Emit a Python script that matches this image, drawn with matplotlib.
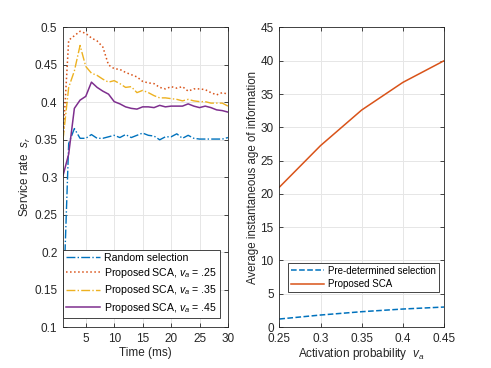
import matplotlib
matplotlib.use("Agg")
import matplotlib.pyplot as plt
import numpy as np

# left panel: service rate vs time
time_ms = np.arange(1, 31)
random_sel = [0.12, 0.345, 0.365, 0.352, 0.352, 0.357, 0.352, 0.352, 0.354, 0.356,
              0.353, 0.357, 0.353, 0.356, 0.359, 0.356, 0.355, 0.350, 0.354, 0.354,
              0.358, 0.352, 0.356, 0.352, 0.351, 0.351, 0.351, 0.351, 0.351, 0.353]
sca_25 = [0.350, 0.483, 0.489, 0.495, 0.492, 0.486, 0.482, 0.474, 0.450, 0.445,
          0.444, 0.440, 0.437, 0.434, 0.428, 0.426, 0.425, 0.420, 0.418, 0.421,
          0.419, 0.421, 0.415, 0.418, 0.418, 0.417, 0.413, 0.410, 0.413, 0.411]
sca_35 = [0.350, 0.420, 0.442, 0.476, 0.448, 0.439, 0.436, 0.431, 0.427, 0.429,
          0.425, 0.420, 0.421, 0.413, 0.416, 0.413, 0.409, 0.406, 0.406, 0.405,
          0.404, 0.402, 0.404, 0.402, 0.401, 0.401, 0.399, 0.399, 0.399, 0.395]
sca_45 = [0.302, 0.331, 0.392, 0.403, 0.408, 0.427, 0.420, 0.415, 0.411, 0.401,
          0.398, 0.394, 0.392, 0.391, 0.394, 0.394, 0.393, 0.396, 0.394, 0.395,
          0.395, 0.395, 0.398, 0.395, 0.393, 0.395, 0.393, 0.390, 0.389, 0.387]

# right panel: age of information vs activation probability
act_prob = [0.25, 0.30, 0.35, 0.40, 0.45]
aoi_predet = [1.2, 1.8, 2.3, 2.7, 3.0]
aoi_sca = [21.0, 27.25, 32.6, 36.75, 40.0]

plt.rcParams['font.family'] = ['Liberation Sans', 'DejaVu Sans']
plt.rcParams['mathtext.fontset'] = 'custom'
plt.rcParams['mathtext.rm'] = 'Liberation Sans'
plt.rcParams['mathtext.it'] = 'Liberation Sans:italic'
plt.rcParams['font.size'] = 8.5

axcol = '#262626'
fig = plt.figure(figsize=(4.91, 3.68), dpi=100)
ax1 = fig.add_axes([0.1283, 0.1114, 0.336, 0.8139])
ax2 = fig.add_axes([0.5689, 0.1114, 0.3354, 0.8139])


def matlab_style(ax):
    for s in ax.spines.values():
        s.set_color(axcol)
        s.set_linewidth(0.6)
    ax.tick_params(direction='in', length=3, width=0.6, colors=axcol,
                   top=True, right=True, labelsize=8.5)
    ax.tick_params(axis='x', pad=4)
    ax.tick_params(axis='y', pad=4)
    ax.grid(True, color='#e6e6e6', linewidth=0.7)
    ax.set_axisbelow(True)


ax1.plot(time_ms, random_sel, '-.', color='#0072BD', lw=1.0, label='Random selection')
ax1.plot(time_ms, sca_25, ':', color='#D95319', lw=1.1, label=r'Proposed SCA, $v_a$ = .25')
ax1.plot(time_ms, sca_35, '-.', color='#EDB120', lw=1.0, label=r'Proposed SCA, $v_a$ = .35')
ax1.plot(time_ms, sca_45, '-', color='#7E2F8E', lw=1.1, label=r'Proposed SCA, $v_a$ = .45')
ax1.set_xlim(1, 30)
ax1.set_ylim(0.1, 0.5)
ax1.set_xticks([5, 10, 15, 20, 25, 30])
ax1.set_yticks(np.arange(0.1, 0.501, 0.05))
ax1.set_yticklabels(['0.1', '0.15', '0.2', '0.25', '0.3', '0.35', '0.4', '0.45', '0.5'])
ax1.set_xlabel('Time (ms)', color=axcol, labelpad=2, fontsize=8.5)
ax1.set_ylabel(r'Service rate  $s_r$', color=axcol, labelpad=1, fontsize=8.5)
matlab_style(ax1)
leg1 = ax1.legend(loc='lower right', bbox_to_anchor=(0.9515, 0.03), borderaxespad=0,
                  fontsize=7.6, frameon=True, fancybox=False, framealpha=1,
                  edgecolor=axcol, handlelength=3.2, borderpad=0.3, labelspacing=0.32,
                  handletextpad=0.35)
leg1.get_frame().set_linewidth(0.6)

ax2.plot(act_prob, aoi_predet, '--', color='#0072BD', lw=1.1, label='Pre-determined selection')
ax2.plot(act_prob, aoi_sca, '-', color='#D95319', lw=1.1, label='Proposed SCA')
ax2.set_xlim(0.25, 0.45)
ax2.set_ylim(0, 45)
ax2.set_xticks(act_prob)
ax2.set_xticklabels(['0.25', '0.3', '0.35', '0.4', '0.45'])
ax2.set_yticks(np.arange(0, 46, 5))
ax2.set_xlabel(r'Activation probability  $v_a$', color=axcol, labelpad=1, fontsize=8.5)
ax2.set_ylabel('Average instantaneous age of information', color=axcol, labelpad=1,
               fontsize=8.3)
matlab_style(ax2)
leg2 = ax2.legend(loc='lower right', bbox_to_anchor=(0.97, 0.117), borderaxespad=0,
                  fontsize=7.0, frameon=True, fancybox=False, framealpha=1,
                  edgecolor=axcol, handlelength=3.4, borderpad=0.3,
                  labelspacing=0.35, handletextpad=0.4)
leg2.get_frame().set_linewidth(0.6)

fig.savefig('out.png', dpi=100)
